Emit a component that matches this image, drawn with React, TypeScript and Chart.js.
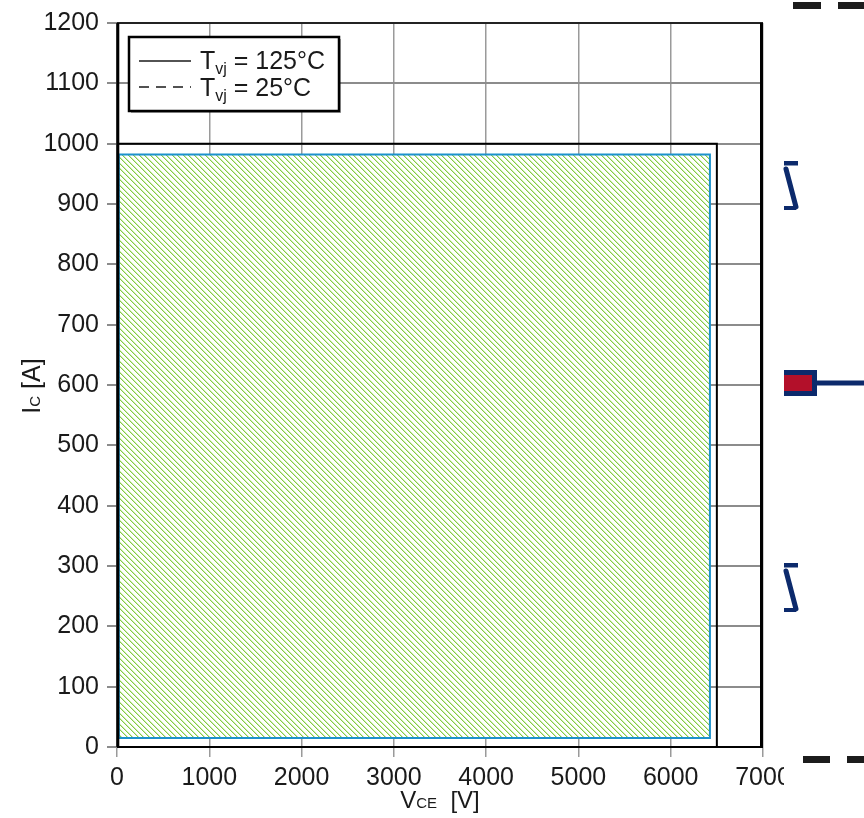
import { useEffect, useRef } from "react";
import { Chart, registerables } from "chart.js";

Chart.register(...registerables);

// ---- data ----
const tj125Vce = [0, 6500, 6500];
const tj125Ic = [1000, 1000, 0];
const tj25Vce: number[] = [];
const tj25Ic: number[] = [];
const soaVce = [20, 20, 6425, 6425, 20];
const soaIc = [15, 982, 982, 15, 15];
const legendTemps = ["125°C", "25°C"];
const xRange = [0, 7000, 1000];
const yRange = [0, 1200, 100];

const FONT = '"Liberation Sans", Arial, Helvetica, sans-serif';
const TEXT = "#1a1a1a";

function toPts(xs: number[], ys: number[]) {
  return xs.map((x, i) => ({ x, y: ys[i] }));
}

function makeHatch(): CanvasPattern | string {
  const c = document.createElement("canvas");
  c.width = 11;
  c.height = 11;
  const g = c.getContext("2d");
  if (!g) return "#c6e6a0";
  g.fillStyle = "#ffffff";
  g.fillRect(0, 0, 11, 11);
  for (let y = 0; y < 11; y++) {
    g.fillStyle = "#cfeab4";
    g.fillRect((y + 1) % 11, y, 1, 1);
    g.fillRect((y + 7) % 11, y, 1, 1);
    g.fillStyle = "#84cc44";
    g.fillRect(y % 11, y, 1, 1);
    g.fillRect((y + 6) % 11, y, 1, 1);
  }
  const p = g.createPattern(c, "repeat");
  return p || "#c6e6a0";
}

type Part = [string, number, number];
function drawParts(ctx: CanvasRenderingContext2D, x: number, y: number, parts: Part[]) {
  let cx = x;
  for (const [t, size, dy] of parts) {
    ctx.font = `${size}px ${FONT}`;
    ctx.fillText(t, cx, y + dy);
    cx += ctx.measureText(t).width;
  }
  return cx;
}
function partsWidth(ctx: CanvasRenderingContext2D, parts: Part[]) {
  let w = 0;
  for (const [t, size] of parts) {
    ctx.font = `${size}px ${FONT}`;
    w += ctx.measureText(t).width;
  }
  return w;
}

const decoPlugin = {
  id: "deco",
  afterDraw(chart: any) {
    const ctx: CanvasRenderingContext2D = chart.ctx;
    const { left, right, top, bottom } = chart.chartArea;
    ctx.save();
    // frame
    ctx.strokeStyle = "#000";
    ctx.lineWidth = 1.5;
    ctx.beginPath();
    ctx.moveTo(left, top);
    ctx.lineTo(right, top);
    ctx.stroke();
    ctx.lineWidth = 2;
    ctx.beginPath();
    ctx.moveTo(left, bottom);
    ctx.lineTo(right, bottom);
    ctx.stroke();
    ctx.lineWidth = 3;
    ctx.beginPath();
    ctx.moveTo(left + 0.8, top);
    ctx.lineTo(left + 0.8, bottom);
    ctx.moveTo(right - 1.5, top);
    ctx.lineTo(right - 1.5, bottom);
    ctx.stroke();

    // legend
    const lx = left + 12;
    const ly = top + 14;
    const lw = 210;
    const lh = 74;
    ctx.fillStyle = "rgba(0,0,0,0.35)";
    ctx.fillRect(lx + 2, ly + 2, lw, lh);
    ctx.fillStyle = "#fff";
    ctx.fillRect(lx, ly, lw, lh);
    ctx.strokeStyle = "#000";
    ctx.lineWidth = 2.5;
    ctx.strokeRect(lx, ly, lw, lh);
    ctx.lineWidth = 1.5;
    ctx.strokeStyle = TEXT;
    ctx.beginPath();
    ctx.moveTo(lx + 10, ly + 24);
    ctx.lineTo(lx + 62, ly + 24);
    ctx.stroke();
    ctx.setLineDash([10, 7]);
    ctx.beginPath();
    ctx.moveTo(lx + 10, ly + 50);
    ctx.lineTo(lx + 62, ly + 50);
    ctx.stroke();
    ctx.setLineDash([]);
    ctx.fillStyle = TEXT;
    ctx.textAlign = "left";
    ctx.textBaseline = "alphabetic";
    legendTemps.forEach((t, i) => {
      drawParts(ctx, lx + 71, ly + 32 + i * 26.5, [
        ["T", 25, 0],
        ["vj", 16, 5],
        [" = " + t, 25, 0],
      ]);
    });

    // x title
    const xParts: Part[] = [
      ["V", 24, 0],
      ["CE", 15, 0],
      ["  [V]", 24, 0],
    ];
    const xw = partsWidth(ctx, xParts);
    drawParts(ctx, (left + right) / 2 - xw / 2, 808, xParts);

    // y title
    const yParts: Part[] = [
      ["I", 25, 0],
      ["C", 15, 0],
      [" [A]", 25, 0],
    ];
    const yw = partsWidth(ctx, yParts);
    ctx.save();
    ctx.translate(40, (top + bottom) / 2 + yw / 2 + 1);
    ctx.rotate(-Math.PI / 2);
    drawParts(ctx, 0, 0, yParts);
    ctx.restore();

    // overlapping page fragment on the right
    const W = chart.width;
    const H = chart.height;
    const ox = right + 21;
    ctx.fillStyle = "#fff";
    ctx.fillRect(ox, 0, W - ox, H);
    ctx.fillStyle = "#1c1c1c";
    ctx.fillRect(ox + 9, 2, 28, 7);
    ctx.fillRect(ox + 54, 2, 30, 7);
    ctx.fillRect(ox + 19, 756, 27, 7);
    ctx.fillRect(ox + 63, 756, 30, 7);
    const navy = "#0c2a6c";
    ctx.fillStyle = navy;
    ctx.strokeStyle = navy;
    ctx.lineWidth = 5;
    ctx.lineCap = "round";
    [161, 563].forEach((t) => {
      ctx.fillRect(ox, t, 14, 4.5);
      ctx.beginPath();
      ctx.moveTo(ox + 2, t + 8);
      ctx.lineTo(ox + 12, t + 46);
      ctx.stroke();
      ctx.fillRect(ox, t + 45, 12, 4);
    });
    ctx.lineCap = "butt";
    ctx.fillRect(ox, 370, 33, 26);
    ctx.fillStyle = "#b3102a";
    ctx.fillRect(ox, 375, 28, 16);
    ctx.fillStyle = navy;
    ctx.fillRect(ox + 33, 380.5, W - ox - 33, 5);
    ctx.restore();
  },
};

export default function App() {
  const ref = useRef<HTMLCanvasElement | null>(null);
  useEffect(() => {
    if (!ref.current) return;
    const chart = new Chart(ref.current, {
      type: "scatter",
      data: {
        datasets: [
          {
            label: "Tvj = 125°C",
            data: toPts(tj125Vce, tj125Ic),
            showLine: true,
            borderColor: "#000",
            borderWidth: 2,
            pointRadius: 0,
            fill: false,
          },
          {
            label: "Tvj = 25°C",
            data: toPts(tj25Vce, tj25Ic),
            showLine: true,
            borderColor: "#000",
            borderDash: [10, 7],
            borderWidth: 1.5,
            pointRadius: 0,
            fill: false,
          },
          {
            label: "SOA",
            data: toPts(soaVce, soaIc),
            showLine: true,
            borderColor: "#1d92cc",
            borderWidth: 2,
            backgroundColor: makeHatch() as any,
            pointRadius: 0,
            fill: "shape",
            tension: 0,
          },
        ],
      },
      plugins: [decoPlugin],
      options: {
        responsive: false,
        animation: false,
        layout: { padding: { top: 18, right: 101, left: 0, bottom: 0 } },
        plugins: {
          legend: { display: false },
          tooltip: { enabled: false },
        },
        scales: {
          x: {
            type: "linear",
            min: xRange[0],
            max: xRange[1],
            afterFit: (s: any) => {
              s.height = 71;
            },
            ticks: {
              stepSize: xRange[2],
              color: TEXT,
              font: { family: FONT, size: 25 },
              padding: 6,
              maxRotation: 0,
              callback: (v: any) => String(v),
            },
            grid: {
              color: "#9a9a9a",
              lineWidth: 1.5,
              tickLength: 10,
              tickColor: "#9a9a9a",
            },
            border: { display: false },
          },
          y: {
            type: "linear",
            min: yRange[0],
            max: yRange[1],
            afterFit: (s: any) => {
              s.width = 117;
            },
            ticks: {
              stepSize: yRange[2],
              color: TEXT,
              font: { family: FONT, size: 25 },
              padding: 8,
              callback: (v: any) => String(v),
            },
            grid: {
              color: "#8c8c8c",
              lineWidth: 2,
              tickLength: 10,
              tickColor: "#8c8c8c",
            },
            border: { display: false },
          },
        },
      },
    });
    return () => chart.destroy();
  }, []);
  return (
    <div style={{ position: "fixed", left: 0, top: 0, width: 864, height: 818, background: "#fff" }}>
      <canvas ref={ref} width={864} height={818} style={{ display: "block" }} />
    </div>
  );
}
